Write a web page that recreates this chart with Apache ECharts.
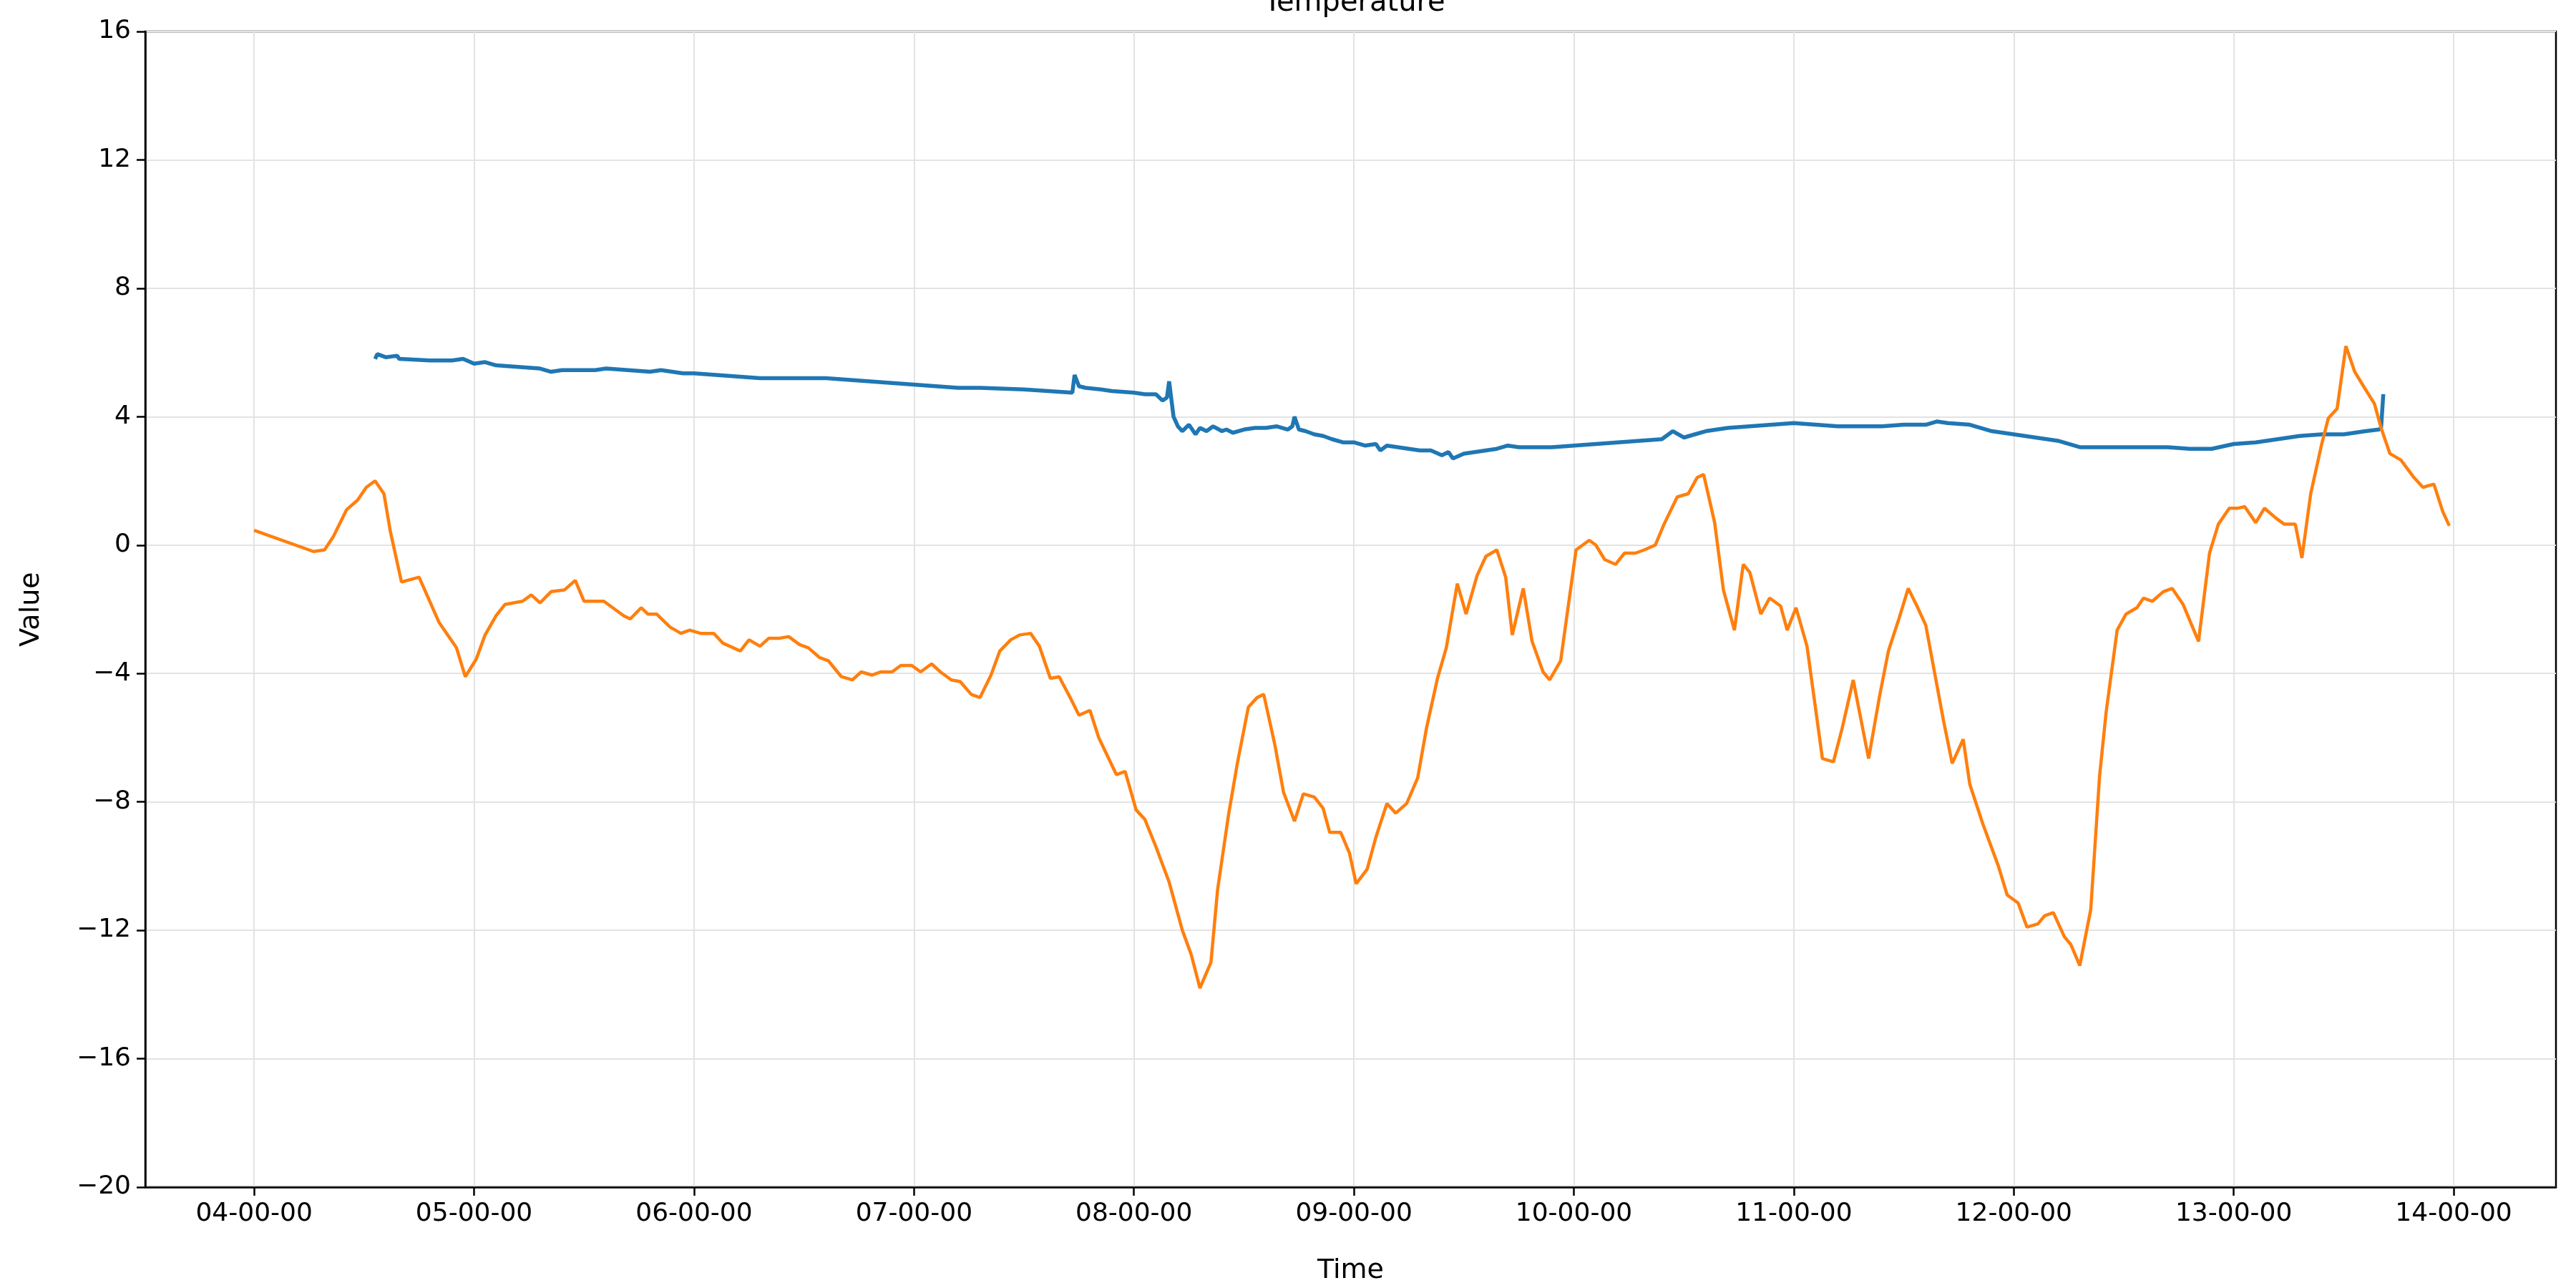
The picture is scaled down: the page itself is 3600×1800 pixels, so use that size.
<!DOCTYPE html>
<html><head><meta charset="utf-8">
<script src="https://cdn.jsdelivr.net/npm/echarts@6/dist/echarts.min.js"></script>
<style>html,body{margin:0;padding:0;background:#fff}#c{width:3600px;height:1800px}</style>
</head><body><div id="c"></div>
<script>
const xTicks = [4,5,6,7,8,9,10,11,12,13,14];
const yTicks = [-20,-16,-12,-8,-4,0,4,8,12,16];
const orangeT = [4.00,4.27,4.32,4.36,4.42,4.47,4.51,4.55,4.59,4.62,4.67,4.75,4.84,4.92,4.96,5.01,5.05,5.10,5.14,5.22,5.26,5.30,5.35,5.41,5.46,5.50,5.59,5.68,5.71,5.76,5.79,5.83,5.89,5.94,5.98,6.03,6.09,6.13,6.21,6.25,6.30,6.34,6.39,6.43,6.48,6.52,6.57,6.61,6.67,6.72,6.76,6.81,6.85,6.90,6.94,6.99,7.03,7.08,7.12,7.17,7.21,7.26,7.30,7.35,7.39,7.44,7.48,7.53,7.57,7.62,7.66,7.71,7.75,7.80,7.84,7.92,7.96,8.01,8.05,8.10,8.16,8.22,8.26,8.30,8.35,8.38,8.43,8.47,8.52,8.56,8.59,8.64,8.68,8.73,8.77,8.82,8.86,8.89,8.94,8.98,9.01,9.06,9.10,9.15,9.19,9.24,9.29,9.33,9.38,9.42,9.47,9.51,9.56,9.60,9.65,9.69,9.72,9.77,9.81,9.86,9.89,9.94,10.01,10.07,10.10,10.14,10.19,10.23,10.28,10.32,10.37,10.41,10.47,10.52,10.56,10.59,10.64,10.68,10.73,10.77,10.80,10.85,10.89,10.94,10.97,11.01,11.06,11.13,11.18,11.22,11.27,11.34,11.39,11.43,11.48,11.52,11.56,11.60,11.68,11.72,11.77,11.80,11.86,11.93,11.97,12.02,12.06,12.11,12.14,12.18,12.23,12.26,12.30,12.35,12.39,12.42,12.47,12.51,12.56,12.59,12.63,12.68,12.72,12.77,12.84,12.89,12.93,12.98,13.02,13.05,13.10,13.14,13.19,13.23,13.28,13.31,13.35,13.40,13.43,13.47,13.51,13.55,13.59,13.64,13.67,13.71,13.76,13.82,13.86,13.91,13.95,13.98];
const orangeV = [0.46,-0.2,-0.15,0.26,1.1,1.4,1.8,2.0,1.6,0.4,-1.15,-1.0,-2.4,-3.2,-4.1,-3.55,-2.8,-2.2,-1.85,-1.75,-1.55,-1.8,-1.45,-1.4,-1.1,-1.75,-1.75,-2.2,-2.3,-1.95,-2.15,-2.15,-2.55,-2.75,-2.65,-2.75,-2.75,-3.05,-3.3,-2.95,-3.15,-2.9,-2.9,-2.85,-3.1,-3.2,-3.5,-3.6,-4.1,-4.2,-3.95,-4.05,-3.95,-3.95,-3.75,-3.75,-3.95,-3.7,-3.95,-4.2,-4.25,-4.65,-4.75,-4.05,-3.3,-2.95,-2.8,-2.75,-3.15,-4.15,-4.1,-4.75,-5.3,-5.15,-6.0,-7.15,-7.05,-8.25,-8.55,-9.4,-10.5,-12.0,-12.75,-13.8,-13.0,-10.75,-8.4,-6.8,-5.05,-4.75,-4.65,-6.2,-7.7,-8.6,-7.75,-7.85,-8.2,-8.95,-8.95,-9.6,-10.55,-10.1,-9.1,-8.05,-8.35,-8.05,-7.25,-5.7,-4.15,-3.2,-1.2,-2.15,-0.95,-0.35,-0.15,-1.0,-2.8,-1.35,-3.0,-3.95,-4.2,-3.6,-0.15,0.15,0.0,-0.45,-0.6,-0.25,-0.25,-0.15,0.0,0.65,1.5,1.6,2.1,2.2,0.7,-1.4,-2.65,-0.6,-0.85,-2.15,-1.65,-1.9,-2.65,-1.95,-3.15,-6.65,-6.75,-5.7,-4.2,-6.65,-4.7,-3.3,-2.25,-1.35,-1.9,-2.5,-5.45,-6.8,-6.05,-7.45,-8.7,-10.0,-10.9,-11.15,-11.9,-11.8,-11.55,-11.45,-12.2,-12.45,-13.1,-11.35,-7.2,-5.2,-2.65,-2.15,-1.95,-1.65,-1.75,-1.45,-1.35,-1.85,-3.0,-0.25,0.65,1.15,1.15,1.2,0.7,1.15,0.85,0.65,0.65,-0.4,1.6,3.15,3.95,4.25,6.2,5.4,4.95,4.4,3.65,2.85,2.65,2.1,1.8,1.9,1.05,0.6];
const blueT = [4.55,4.56,4.60,4.65,4.66,4.80,4.90,4.95,5.00,5.05,5.10,5.20,5.30,5.35,5.40,5.55,5.60,5.70,5.80,5.85,5.95,6.00,6.10,6.20,6.30,6.60,6.70,6.80,6.90,7.00,7.10,7.20,7.30,7.50,7.72,7.73,7.75,7.78,7.85,7.90,8.00,8.05,8.10,8.13,8.15,8.16,8.18,8.20,8.22,8.25,8.28,8.30,8.33,8.36,8.40,8.42,8.45,8.50,8.55,8.60,8.65,8.70,8.72,8.73,8.75,8.78,8.82,8.86,8.90,8.95,9.00,9.05,9.10,9.12,9.15,9.20,9.25,9.30,9.35,9.40,9.43,9.45,9.50,9.55,9.60,9.65,9.70,9.75,9.80,9.90,10.00,10.10,10.20,10.30,10.40,10.45,10.50,10.55,10.60,10.70,10.80,10.90,11.00,11.10,11.20,11.30,11.40,11.50,11.60,11.65,11.70,11.80,11.90,12.00,12.10,12.20,12.30,12.40,12.50,12.60,12.70,12.80,12.90,13.00,13.10,13.20,13.30,13.40,13.50,13.60,13.66,13.67,13.68];
const blueV = [5.8,5.95,5.85,5.9,5.8,5.75,5.75,5.8,5.65,5.7,5.6,5.55,5.5,5.4,5.45,5.45,5.5,5.45,5.4,5.45,5.35,5.35,5.3,5.25,5.2,5.2,5.15,5.1,5.05,5.0,4.95,4.9,4.9,4.85,4.75,5.3,4.95,4.9,4.85,4.8,4.75,4.7,4.7,4.5,4.6,5.1,4.0,3.7,3.55,3.75,3.45,3.65,3.55,3.7,3.55,3.6,3.5,3.6,3.65,3.65,3.7,3.6,3.7,4.0,3.6,3.55,3.45,3.4,3.3,3.2,3.2,3.1,3.15,2.95,3.1,3.05,3.0,2.95,2.95,2.8,2.9,2.7,2.85,2.9,2.95,3.0,3.1,3.05,3.05,3.05,3.1,3.15,3.2,3.25,3.3,3.55,3.35,3.45,3.55,3.65,3.7,3.75,3.8,3.75,3.7,3.7,3.7,3.75,3.75,3.85,3.8,3.75,3.55,3.45,3.35,3.25,3.05,3.05,3.05,3.05,3.05,3.0,3.0,3.15,3.2,3.3,3.4,3.45,3.45,3.55,3.6,3.65,4.7];
const zip=(t,v)=>t.map((x,i)=>[x,v[i]]);
const pad=n=>String(n).padStart(2,'0');
const ch=echarts.init(document.getElementById('c'));
const F='DejaVu Sans';
ch.setOption({
  animation:false,
  title:{text:'Temperature',left:1888,top:-20,textAlign:'center',textStyle:{fontFamily:F,fontSize:40,fontWeight:'normal',color:'#000'}},
  grid:{left:203,right:28,top:44,bottom:106,show:true,borderColor:'#000',borderWidth:2.5,backgroundColor:'transparent'},
  xAxis:{type:'value',min:3.505,max:14.465,name:'Time',nameLocation:'middle',nameGap:98,
    nameTextStyle:{fontFamily:F,fontSize:38,color:'#000'},
    axisLine:{show:true,onZero:false,lineStyle:{color:'#000',width:2.5}},
    axisTick:{show:true,length:12,lineStyle:{color:'#000',width:2.5},customValues:xTicks},
    axisLabel:{customValues:xTicks,fontFamily:F,fontSize:36,color:'#000',margin:20,formatter:v=>pad(Math.round(v))+'-00-00'},
    splitLine:{show:true,lineStyle:{color:'#e3e3e3',width:2}}},
  yAxis:{type:'value',min:-20,max:16,interval:4,name:'Value',nameLocation:'middle',nameGap:140,
    nameTextStyle:{fontFamily:F,fontSize:38,color:'#000'},
    axisLine:{show:true,onZero:false,lineStyle:{color:'#000',width:2.5}},
    axisTick:{show:true,length:12,lineStyle:{color:'#000',width:2.5}},
    axisLabel:{fontFamily:F,fontSize:36,color:'#000',margin:20,formatter:v=>v<0?'\u2212'+Math.abs(v):String(v)},
    splitLine:{show:true,lineStyle:{color:'#e3e3e3',width:2}}},
  series:[
    {type:'line',data:zip(blueT,blueV),showSymbol:false,lineStyle:{color:'#1f77b4',width:5.5},z:3},
    {type:'line',data:zip(orangeT,orangeV),showSymbol:false,lineStyle:{color:'#ff7f0e',width:4.5},z:4}
  ]
});
</script></body></html>
